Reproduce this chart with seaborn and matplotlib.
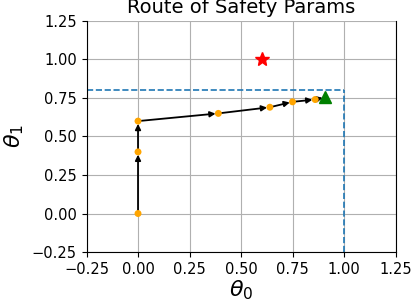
import matplotlib
matplotlib.use("Agg")
import matplotlib.pyplot as plt
import seaborn as sns
import pandas as pd

# route of the safety params (theta_0, theta_1)
theta0 = [0.0, 0.0, 0.0, 0.39, 0.64, 0.75, 0.86]
theta1 = [0.0, 0.40, 0.60, 0.65, 0.69, 0.725, 0.74]
final_pt = (0.91, 0.755)
target_pt = (0.60, 1.00)
bound = (1.0, 0.8)
ticks = [-0.25, 0.0, 0.25, 0.5, 0.75, 1.0, 1.25]

df = pd.DataFrame({"theta0": theta0, "theta1": theta1})

sns.set_style("ticks")
plt.rcParams["text.color"] = "black"
plt.rcParams["axes.labelcolor"] = "black"
plt.rcParams["xtick.color"] = "black"
plt.rcParams["ytick.color"] = "black"

fig, ax = plt.subplots(figsize=(4.12, 3.04), dpi=100)
fig.subplots_adjust(left=0.21, right=0.96, bottom=0.171, top=0.931)

ax.grid(True, color="#b0b0b0", linewidth=0.8)
ax.set_axisbelow(True)

# boundary box (dashed)
ax.plot([ticks[0], bound[0]], [bound[1], bound[1]], "--", color="tab:blue", lw=1.2)
ax.plot([bound[0], bound[0]], [ticks[0], bound[1]], "--", color="tab:blue", lw=1.2)

# arrows between consecutive points
xs = theta0 + [final_pt[0]]
ys = theta1 + [final_pt[1]]
for i in range(len(xs) - 1):
    ax.annotate("", xy=(xs[i + 1], ys[i + 1]), xytext=(xs[i], ys[i]),
                arrowprops=dict(arrowstyle="-|>", color="black", lw=1.3,
                                mutation_scale=8, shrinkA=0, shrinkB=2))

sns.scatterplot(data=df, x="theta0", y="theta1", color="orange", s=25,
                edgecolor="none", ax=ax, zorder=3)
ax.plot(final_pt[0], final_pt[1], "^", color="green", markersize=8, zorder=4)
ax.plot(target_pt[0], target_pt[1], "*", color="red", markersize=10, zorder=4)

ax.set_xlim(ticks[0], ticks[-1])
ax.set_ylim(ticks[0], ticks[-1])
ax.set_xticks(ticks)
ax.set_yticks(ticks)
ax.tick_params(labelsize=10.5, color="black", labelcolor="black")
for s in ["left", "bottom", "right"]:
    ax.spines[s].set_visible(True)
    ax.spines[s].set_color("black")
ax.spines["top"].set_visible(False)

ax.set_title("Route of Safety Params", fontsize=14, color="black")
ax.set_xlabel(r"$\theta_0$", fontsize=16, labelpad=1)
ax.set_ylabel(r"$\theta_1$", fontsize=16)

fig.savefig("out.png", dpi=100)
